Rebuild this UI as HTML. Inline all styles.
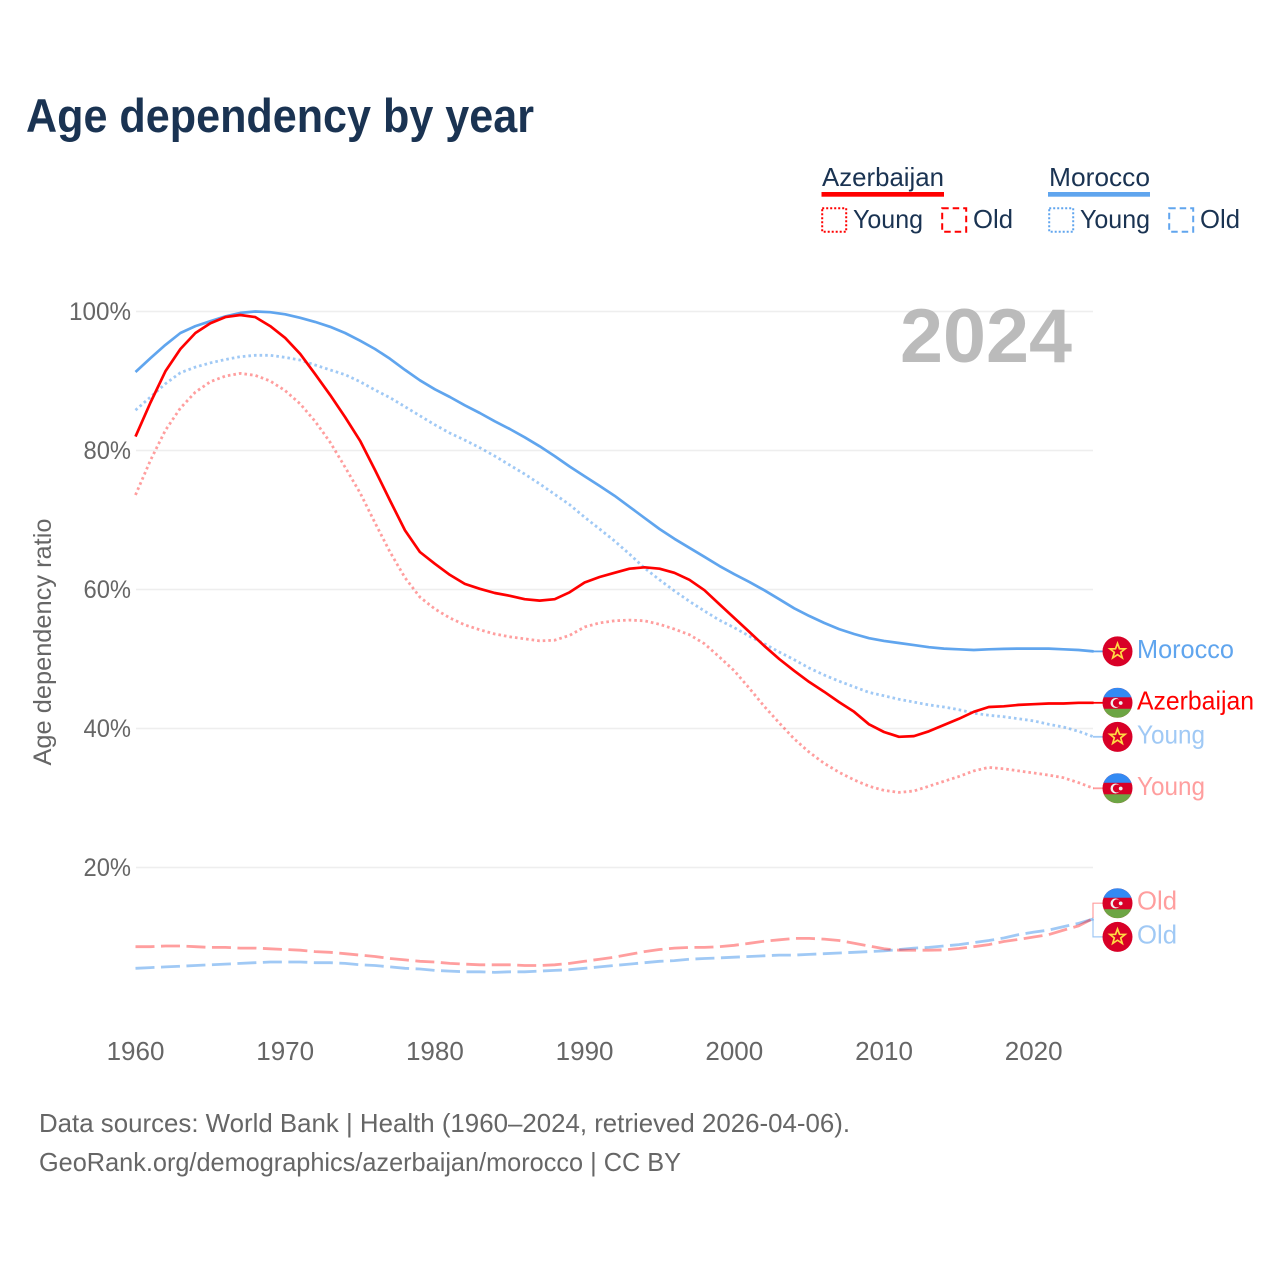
<!DOCTYPE html>
<html lang="en">
<head>
<meta charset="utf-8">
<title>Age dependency by year</title>
<style>
html,body{margin:0;padding:0;background:#fff;}
svg{display:block;font-family:"Liberation Sans",sans-serif;}
</style>
</head>
<body>
<svg id="chart" width="1280" height="1280" viewBox="0 0 1280 1280" xmlns="http://www.w3.org/2000/svg">
  <defs>
    <clipPath id="flag-clip"><circle cx="0" cy="0" r="15"/></clipPath>
    <g id="flag-az">
      <g clip-path="url(#flag-clip)">
        <rect x="-15" y="-15" width="30" height="30" fill="#d80027"/>
        <rect x="-15" y="-15" width="30" height="9.5" fill="#338af3"/>
        <rect x="-15" y="6" width="30" height="9" fill="#6da544"/>
      </g>
      <circle cx="-2" cy="0.2" r="5" fill="#f0f0f0"/>
      <circle cx="-0.6" cy="0.2" r="4" fill="#d80027"/>
      <circle cx="3.2" cy="0.2" r="1.9" fill="#f0f0f0"/>
    </g>
    <g id="flag-ma">
      <circle cx="0" cy="0" r="15" fill="#d80027"/>
      <polygon points="0,-8 2,-2.6 7.6,-2.5 3.2,1 4.8,6.5 0,3.3 -4.8,6.5 -3.2,1 -7.6,-2.5 -2,-2.6" fill="none" stroke="#ffda44" stroke-width="1.7"/>
    </g>
  </defs>

  <text x="26" y="132" font-size="47" font-weight="700" fill="#1a3352" textLength="508" lengthAdjust="spacingAndGlyphs">Age dependency by year</text>

  <g font-size="26" fill="#1a3352">
    <g>
      <text x="822" y="186" textLength="122" lengthAdjust="spacingAndGlyphs">Azerbaijan</text>
      <rect x="821.5" y="192" width="122.5" height="4.7" fill="#ff0000"/>
      <rect x="822.2" y="208.2" width="24" height="23.5" fill="none" stroke="#ff0000" stroke-width="2" stroke-dasharray="2 2"/>
      <text x="853" y="228" textLength="70" lengthAdjust="spacingAndGlyphs">Young</text>
      <rect x="942.2" y="208.2" width="24" height="23.5" fill="none" stroke="#ff0000" stroke-width="2" stroke-dasharray="6.5 4"/>
      <text x="973" y="228" textLength="40" lengthAdjust="spacingAndGlyphs">Old</text>
    </g>
    <g>
      <text x="1049" y="186" textLength="101" lengthAdjust="spacingAndGlyphs">Morocco</text>
      <rect x="1048" y="192" width="102" height="4.7" fill="#60a5ee"/>
      <rect x="1049.2" y="208.2" width="24" height="23.5" fill="none" stroke="#60a5ee" stroke-width="2" stroke-dasharray="2 2"/>
      <text x="1080" y="228" textLength="70" lengthAdjust="spacingAndGlyphs">Young</text>
      <rect x="1169.2" y="208.2" width="24" height="23.5" fill="none" stroke="#60a5ee" stroke-width="2" stroke-dasharray="6.5 4"/>
      <text x="1200" y="228" textLength="40" lengthAdjust="spacingAndGlyphs">Old</text>
    </g>
  </g>

  <g id="grid"></g>
  <g id="y-ticks" font-size="25" fill="#666666" text-anchor="end"></g>
  <g id="x-ticks" font-size="26" fill="#666666" text-anchor="middle"></g>
  <text transform="translate(51,642) rotate(-90)" font-size="25" fill="#666666" text-anchor="middle" textLength="247" lengthAdjust="spacingAndGlyphs">Age dependency ratio</text>
  <text x="1072" y="362" font-size="76" font-weight="700" fill="#bbbbbb" text-anchor="end" textLength="172" lengthAdjust="spacingAndGlyphs">2024</text>

  <g id="series"></g>
  <g id="end-labels" font-size="26"></g>

  <g font-size="26" fill="#666666">
    <text x="39" y="1132" textLength="811" lengthAdjust="spacingAndGlyphs">Data sources: World Bank | Health (1960–2024, retrieved 2026-04-06).</text>
    <text x="39" y="1171" textLength="642" lengthAdjust="spacingAndGlyphs">GeoRank.org/demographics/azerbaijan/morocco | CC BY</text>
  </g>
</svg>
<script>
const startYear = 1960;
const xTickYears = [1960, 1970, 1980, 1990, 2000, 2010, 2020];
const yTickValues = [20, 40, 60, 80, 100];
const yTickLabels = ['20%', '40%', '60%', '80%', '100%'];

const moroccoTotal = [91.3,93.3,95.2,96.9,97.9,98.6,99.3,99.8,100,99.9,
  99.6,99.1,98.5,97.8,96.9,95.8,94.6,93.2,91.6,90.1,
  88.8,87.7,86.5,85.4,84.2,83.1,81.9,80.6,79.2,77.7,
  76.3,74.9,73.5,71.9,70.3,68.7,67.3,66.0,64.7,63.4,
  62.2,61.1,59.9,58.6,57.3,56.2,55.2,54.3,53.6,53.0,
  52.6,52.3,52.0,51.7,51.5,51.4,51.3,51.4,51.45,51.5,
  51.5,51.5,51.4,51.3,51.1];
const azerbaijanTotal = [82.0,86.9,91.4,94.6,96.9,98.3,99.2,99.5,99.2,97.9,
  96.2,93.9,91.0,88.0,84.8,81.4,77.2,72.8,68.5,65.4,
  63.7,62.1,60.8,60.1,59.5,59.1,58.6,58.4,58.6,59.6,
  61.0,61.8,62.4,63.0,63.2,63.0,62.4,61.4,59.9,57.9,
  55.9,53.9,51.9,50.0,48.3,46.7,45.3,43.8,42.4,40.6,
  39.5,38.8,38.9,39.6,40.5,41.4,42.4,43.1,43.2,43.4,
  43.5,43.6,43.6,43.7,43.7];
const moroccoYoung = [85.8,87.7,89.6,91.2,92.0,92.6,93.1,93.5,93.7,93.7,
  93.4,93.0,92.3,91.6,90.9,89.9,88.7,87.6,86.3,85.0,
  83.7,82.5,81.5,80.4,79.2,77.9,76.6,75.2,73.7,72.2,
  70.4,68.7,67.0,65.1,63.1,61.4,59.8,58.3,56.9,55.6,
  54.5,53.3,52.2,51.0,49.9,48.7,47.7,46.8,46.0,45.2,
  44.7,44.2,43.8,43.4,43.1,42.7,42.2,41.9,41.7,41.4,
  41.1,40.6,40.2,39.6,38.8];
const azerbaijanYoung = [73.6,78.6,82.9,86.1,88.4,89.9,90.7,91.1,90.8,90.0,
  88.6,86.7,84.2,81.2,77.6,73.9,69.6,65.4,61.7,58.9,
  57.2,55.9,54.9,54.2,53.6,53.2,52.9,52.6,52.7,53.4,
  54.6,55.2,55.5,55.6,55.5,55.0,54.3,53.5,52.2,50.3,
  48.3,45.8,43.2,40.8,38.5,36.6,35.0,33.7,32.6,31.7,
  31.1,30.8,31.0,31.7,32.4,33.1,33.9,34.4,34.2,33.9,
  33.6,33.3,32.9,32.2,31.4];
const azerbaijanOld = [8.6,8.6,8.7,8.7,8.6,8.5,8.5,8.4,8.4,8.3,
  8.2,8.1,7.9,7.8,7.6,7.4,7.2,6.9,6.7,6.5,
  6.4,6.2,6.1,6.0,6.0,6.0,5.9,5.9,6.0,6.2,
  6.5,6.8,7.1,7.5,7.9,8.2,8.4,8.5,8.5,8.6,
  8.8,9.1,9.4,9.6,9.8,9.8,9.7,9.5,9.1,8.7,
  8.3,8.1,8.1,8.1,8.15,8.35,8.6,8.9,9.35,9.65,
  10.0,10.35,11.0,11.6,12.7];
const moroccoOld = [5.5,5.6,5.7,5.8,5.9,6.0,6.1,6.2,6.3,6.4,
  6.4,6.4,6.3,6.3,6.2,6.0,5.9,5.7,5.5,5.4,
  5.2,5.1,5.0,5.0,4.9,5.0,5.0,5.1,5.2,5.3,
  5.5,5.7,5.9,6.1,6.3,6.5,6.6,6.8,6.9,7.0,
  7.1,7.2,7.3,7.4,7.4,7.5,7.6,7.7,7.8,7.9,
  8.0,8.2,8.4,8.5,8.7,8.9,9.2,9.5,9.85,10.35,
  10.7,11.0,11.5,11.95,12.6];

const NS = 'http://www.w3.org/2000/svg';
const RED = '#ff0000';
const BLUE = '#60a5ee';
function xScale(year) { return 135.5 + (year - 1960) * 14.97; }
function yScale(v) { return 311.5 + (100 - v) * 6.95; }
function make(tag, attrs, parent) {
  const el = document.createElementNS(NS, tag);
  for (const k in attrs) el.setAttribute(k, attrs[k]);
  parent.appendChild(el);
  return el;
}

const gridG = document.getElementById('grid');
const yG = document.getElementById('y-ticks');
yTickValues.forEach(function (v, i) {
  const line = make('line', {x1: 136, x2: 1093, y1: yScale(v), y2: yScale(v), stroke: '#eeeeee', 'stroke-width': 1.4}, gridG);
  
  
  const label = yTickLabels[i];
  const t = make('text', {x: 131, y: yScale(v) + 8.5, textLength: (label.length - 1) * 14.5 + 18.5, lengthAdjust: 'spacingAndGlyphs'}, yG);
  
  
  t.textContent = label;
});
const xG = document.getElementById('x-ticks');
xTickYears.forEach(function (yr) {
  const t = make('text', {x: xScale(yr), y: 1060}, xG);
  
  
  t.textContent = String(yr);
});

const seriesG = document.getElementById('series');
function drawLine(values, name, color, opts) {
  const pts = values.map(function (v, i) { return xScale(startYear + i).toFixed(1) + ',' + yScale(v).toFixed(1); }).join(' ');
  const attrs = {points: pts, fill: 'none', stroke: color, 'stroke-width': opts.width, 'stroke-linejoin': 'round', opacity: opts.opacity};
  if (opts.dash) attrs['stroke-dasharray'] = opts.dash;
  const p = make('polyline', attrs, seriesG);
  
  
}
drawLine(moroccoOld, 'morocco-old-line', BLUE, {dash: '19 6.5', opacity: 0.6, width: 2.8});
drawLine(azerbaijanOld, 'azerbaijan-old-line', RED, {dash: '19 6.5', opacity: 0.38, width: 2.8});
drawLine(moroccoYoung, 'morocco-young-line', BLUE, {dash: '2.6 3', opacity: 0.6, width: 2.8});
drawLine(azerbaijanYoung, 'azerbaijan-young-line', RED, {dash: '2.6 3', opacity: 0.38, width: 2.8});
drawLine(moroccoTotal, 'morocco-total-line', BLUE, {opacity: 1, width: 2.7});
drawLine(azerbaijanTotal, 'azerbaijan-total-line', RED, {opacity: 1, width: 2.7});

const endG = document.getElementById('end-labels');
function endLabel(values, text, flag, color, opacity, width, offset, slug) {
  const lastY = yScale(values[values.length - 1]);
  const cy = lastY + offset;
  const cx = 1117.5;
  const leaderAttrs = {fill: 'none', stroke: color, 'stroke-width': offset ? 1.2 : 1.8, opacity: opacity};
  leaderAttrs.points = offset
    ? '1093,' + lastY.toFixed(1) + ' 1093,' + cy.toFixed(1) + ' 1103,' + cy.toFixed(1)
    : '1093,' + lastY.toFixed(1) + ' 1103,' + cy.toFixed(1);
  const leader = make('polyline', leaderAttrs, endG);
  
  
  const f = make('use', {href: '#' + flag, x: cx, y: cy}, endG);
  
  
  const t = make('text', {x: 1137, y: cy + 6.5, fill: color, 'fill-opacity': opacity, textLength: width, lengthAdjust: 'spacingAndGlyphs'}, endG);
  
  
  t.textContent = text;
}
endLabel(moroccoTotal, 'Morocco', 'flag-ma', BLUE, 1, 97, 0, 'morocco-total');
endLabel(azerbaijanTotal, 'Azerbaijan', 'flag-az', RED, 1, 117, 0, 'azerbaijan-total');
endLabel(moroccoYoung, 'Young', 'flag-ma', BLUE, 0.6, 68, 0, 'morocco-young');
endLabel(azerbaijanYoung, 'Young', 'flag-az', RED, 0.38, 68, 0, 'azerbaijan-young');
endLabel(azerbaijanOld, 'Old', 'flag-az', RED, 0.38, 40, -15, 'azerbaijan-old');
endLabel(moroccoOld, 'Old', 'flag-ma', BLUE, 0.6, 40, 18, 'morocco-old');
</script>
</body>
</html>
